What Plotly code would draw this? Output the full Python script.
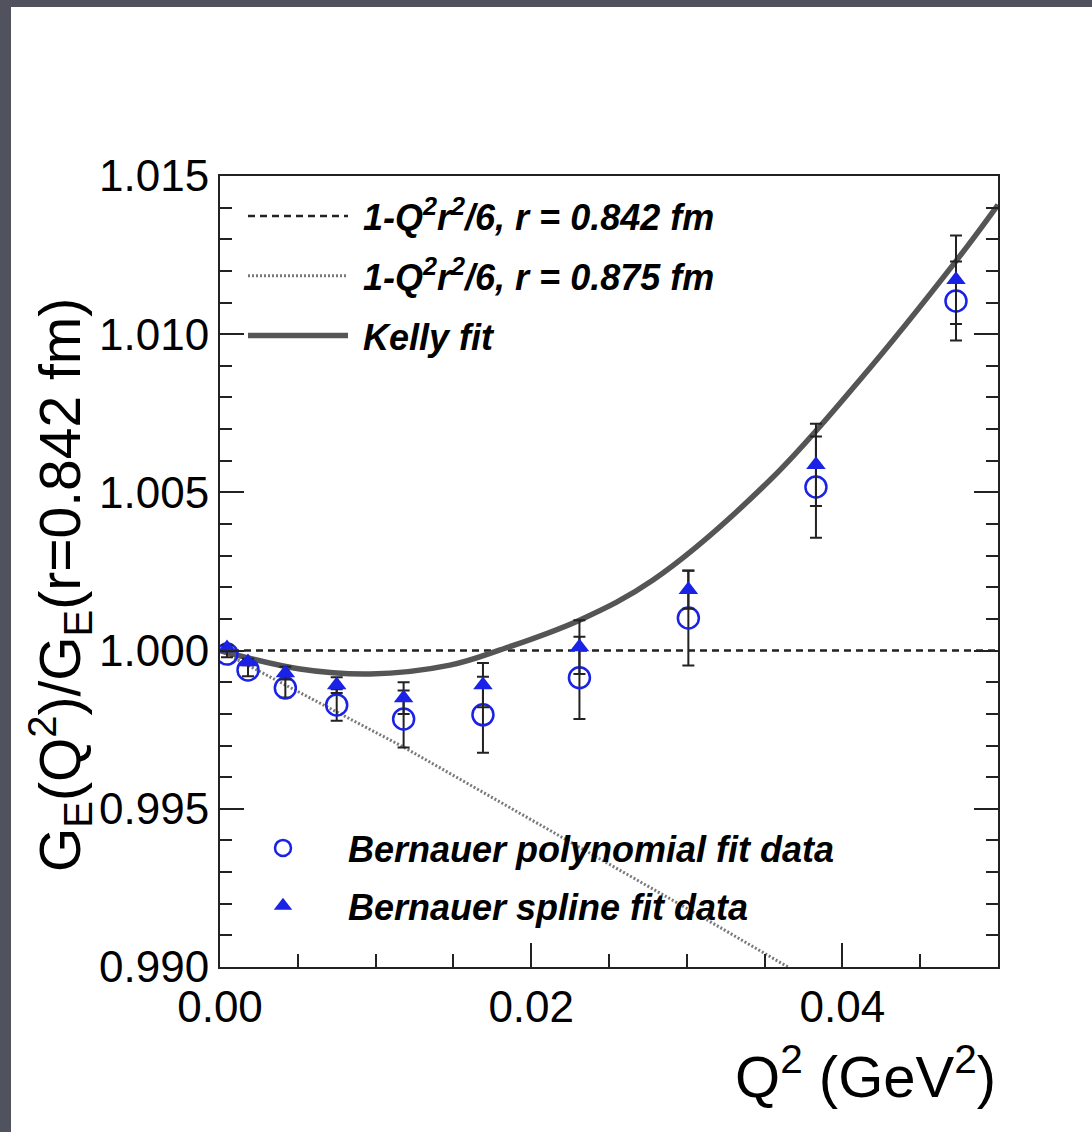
import plotly.graph_objects as go

# ---- data ----
q2_points = [0.00045, 0.0018, 0.0042, 0.0075, 0.0118, 0.0169, 0.0231, 0.0301, 0.0383, 0.0473]
poly_vals = [0.99989, 0.99939, 0.99882, 0.99828, 0.99784, 0.99797, 0.99914, 1.00103, 1.00517, 1.01105]
poly_errs = [0.0001, 0.0002, 0.0003, 0.0005, 0.0009, 0.0012, 0.0013, 0.0015, 0.0016, 0.00125]
spline_vals = [1.00008, 0.99964, 0.99929, 0.99891, 0.99850, 0.99891, 1.00011, 1.00192, 1.00587, 1.01172]
spline_errs = [0.0001, 0.0001, 0.0002, 0.00025, 0.0005, 0.0007, 0.00085, 0.0006, 0.0013, 0.0014]

r842_q2 = [0.0, 0.05]
r842_vals = [1.0, 1.0]

r875_q2 = [0.0, 0.0118, 0.0313, 0.0365]
r875_vals = [1.0, 0.99695, 0.99149, 0.990]

kelly_q2 = [0.0, 0.00514, 0.00964, 0.01478, 0.0180, 0.02314, 0.02783, 0.03535, 0.04113, 0.04736, 0.0500]
kelly_vals = [1.0000, 0.99942, 0.99926, 0.99954, 1.00002, 1.00097, 1.00223, 1.00539, 1.00856, 1.01235, 1.01409]

x_ticks = [0.00, 0.02, 0.04]
y_ticks = [0.990, 0.995, 1.000, 1.005, 1.010, 1.015]

FONT = "Liberation Sans, Arial, Helvetica, sans-serif"
BLUE = "#1a22e6"
SP = "&nbsp;"

fig = go.Figure()

fig.add_trace(go.Scatter(
    x=r842_q2, y=r842_vals, mode="lines",
    name=SP + "<b><i>1-Q<sup>2</sup>r<sup>2</sup>/6, r = 0.842 fm</i></b>",
    line=dict(color="#222222", width=2.5, dash="7px,5px"),
    legend="legend", legendgroup="a"))
fig.add_trace(go.Scatter(
    x=r875_q2, y=r875_vals, mode="lines",
    name=SP + "<b><i>1-Q<sup>2</sup>r<sup>2</sup>/6, r = 0.875 fm</i></b>",
    line=dict(color="#7a7a7a", width=3, dash="2px,2px"),
    legend="legend", legendgroup="b"))
fig.add_trace(go.Scatter(
    x=kelly_q2, y=kelly_vals, mode="lines", line_shape="spline",
    name=SP + "<b><i>Kelly fit</i></b>",
    line=dict(color="#555555", width=5.5),
    legend="legend", legendgroup="c"))

fig.add_trace(go.Scatter(
    x=q2_points, y=poly_vals, mode="markers",
    name=SP * 3 + "<b><i>Bernauer polynomial fit data</i></b>",
    marker=dict(symbol="circle-open", size=21, color=BLUE, line=dict(width=2.5, color=BLUE)),
    error_y=dict(type="data", array=poly_errs, color="#222222", thickness=2, width=6),
    legend="legend2", legendgroup="d"))
fig.add_trace(go.Scatter(
    x=q2_points, y=spline_vals, mode="markers",
    name=SP * 3 + "<b><i>Bernauer spline fit data</i></b>",
    marker=dict(symbol="triangle-up", size=17, color=BLUE),
    error_y=dict(type="data", array=spline_errs, color="#222222", thickness=2, width=6),
    legend="legend2", legendgroup="e"))

W, H = 1092, 1132
L, R, T, B = 220, 94, 176, 165
pw, ph = W - L - R, H - T - B

def px(xp):
    return (xp - L) / pw

def py(yp):
    return (H - B - yp) / ph

fig.update_layout(
    width=W, height=H,
    margin=dict(l=L, r=R, t=T, b=B, pad=0),
    paper_bgcolor="#50535e",
    plot_bgcolor="white",
    font=dict(family=FONT, color="black"),
    showlegend=True,
    legend=dict(x=px(243), y=py(186), xanchor="left", yanchor="top",
                bgcolor="rgba(0,0,0,0)", font=dict(size=36, family=FONT),
                itemwidth=100, tracegroupgap=10, traceorder="grouped",
                itemclick=False),
    legend2=dict(x=px(248), y=py(818), xanchor="left", yanchor="top",
                 bgcolor="rgba(0,0,0,0)", font=dict(size=36, family=FONT),
                 itemwidth=60, tracegroupgap=8, traceorder="grouped",
                 itemclick=False),
    shapes=[dict(type="rect", xref="paper", yref="paper", layer="below",
                 x0=px(11), x1=px(W + 20), y0=py(H + 20), y1=py(7),
                 fillcolor="white", line=dict(width=0))],
    annotations=[
        dict(text="G<sub>E</sub>(Q<sup>2</sup>)/G<sub>E</sub>(r=0.842 fm)",
             xref="paper", yref="paper", x=px(60), y=py(585),
             xanchor="center", yanchor="middle", textangle=-90, showarrow=False,
             font=dict(size=57, family=FONT, color="black")),
        dict(text="Q<sup>2</sup> (GeV<sup>2</sup>)",
             xref="paper", yref="paper", x=1.0, y=py(1072),
             xanchor="right", yanchor="middle", showarrow=False,
             font=dict(size=58, family=FONT, color="black")),
    ],
)

fig.update_xaxes(
    range=[0, 0.05], tickvals=x_ticks, tickformat=".2f",
    ticks="inside", ticklen=24, tickwidth=2, tickcolor="#222",
    minor=dict(ticks="inside", dtick=0.005, tick0=0, ticklen=13, tickwidth=2, tickcolor="#222"),
    showline=True, linecolor="#222", linewidth=2, mirror=True,
    showgrid=False, zeroline=False,
    tickfont=dict(size=44, family=FONT, color="black"),
)
fig.update_yaxes(
    range=[0.990, 1.015], tickvals=y_ticks, tickformat=".3f",
    ticks="inside", ticklen=24, tickwidth=2, tickcolor="#222",
    minor=dict(ticks="inside", dtick=0.001, tick0=0.990, ticklen=12, tickwidth=2, tickcolor="#222"),
    showline=True, linecolor="#222", linewidth=2, mirror="allticks",
    showgrid=False, zeroline=False,
    tickfont=dict(size=44, family=FONT, color="black"),
)

fig.write_html("out.html")
